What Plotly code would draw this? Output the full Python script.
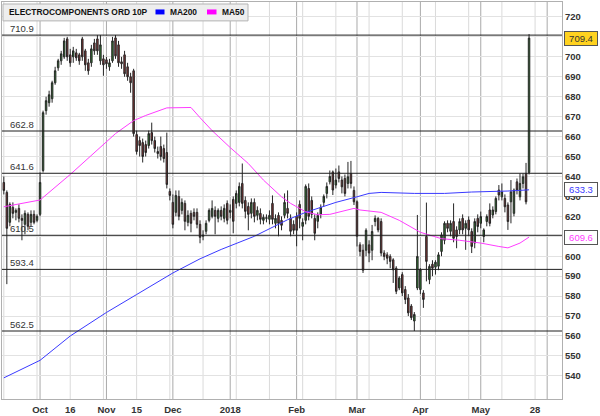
import pandas as pd
import plotly.graph_objects as go

# ---------------- data ----------------
TITLE = "ELECTROCOMPONENTS ORD 10P"
first_day = "2017-09-14"
last_day = "2018-05-24"
axis_end_day = "2018-06-08"
holidays = ["2017-12-25", "2017-12-26", "2018-01-01", "2018-03-30", "2018-04-02", "2018-05-07"]

open_ = [637, 632, 617, 624.5, 622, 624, 619, 616, 621, 617, 621, 618,
         621, 643, 673, 677, 679, 687, 694.5, 698, 700, 709, 701, 700, 702, 701, 709, 703, 697, 697, 707, 709, 698, 699,
         698.5, 695, 698, 709.5, 706, 697.5, 701, 695, 690, 693, 661, 658, 657, 656, 655.5, 662, 658, 652.5, 655, 654, 652, 632.5,
         627, 622, 630, 623, 626.5, 617, 621.5, 622, 622, 616, 610, 612.5, 618, 620, 623, 619, 623, 619, 626.5,
         622, 628.5, 626.5, 627, 636.5, 628, 625, 621.5, 627, 620.5, 621.5, 618, 619, 618.5, 626.5, 616.5, 620.5, 618, 620.5, 624, 619, 616,
         620, 626, 615, 618, 634, 628, 619, 617.5, 621, 627, 631.5, 637.3, 642.3, 635.7, 642.3, 638.2, 639, 636.5, 641.5, 633,
         627.3, 605.7, 603, 603, 605.7, 603, 617.4, 619, 617.4, 601.6, 600.7, 599.9, 598.2, 594, 584.1, 590.8, 583.3, 579.1, 575, 567.5, 584.1,
         583.3, 581.6, 609.9, 588.3, 596, 594.5, 595, 602.4, 608, 616.5, 612.5, 617.4, 613.2, 613.2, 619, 614, 618.2, 612.4, 606.6, 619,
         616.5, 609.9, 617.4, 623.2, 620.7, 622.4, 633.2, 629.8, 629, 625.7, 627.3, 621.5, 637.3, 629.8, 636.5, 641.5, 642]
high = [640, 633, 627, 627, 624, 626, 621, 623, 622, 623, 623, 621,
        642, 673, 680, 683, 688, 695, 699, 703, 709.5, 710, 704, 705, 704, 702, 710, 704, 699, 706, 709, 710.9, 710.9, 701,
        700, 699, 710, 710.9, 708, 700, 703, 697, 692, 694, 663, 660, 659, 658, 663, 667, 660, 655, 660, 656, 662, 634,
        631, 633, 633, 629, 628, 623, 623, 624, 624, 618, 613, 618, 624, 628, 625, 624, 625, 626, 628,
        626, 630, 633, 637, 646.5, 630, 627, 629, 629, 625, 624, 621, 621, 623, 630.5, 621, 622, 620, 631.5, 633, 621, 618,
        622, 628, 619, 636, 636.5, 630, 621, 622, 626, 631, 637, 643, 643, 644, 645.5, 640, 641, 647.3, 647.8, 635,
        628, 607, 606, 614, 608, 615.7, 620.5, 619.6, 619, 603, 602, 601, 599, 595, 590, 592, 585, 581, 576, 572, 620.7,
        594, 583, 626.9, 596, 598, 598, 602, 612, 617.5, 618, 618, 626.5, 615, 619, 621, 618, 620, 614, 619, 621,
        622.4, 614, 621, 626.5, 625, 630, 635.7, 636.5, 631, 627, 638.2, 634, 639, 641.5, 641.5, 646.8, 711.4]
low = [631, 586, 615, 619, 618, 617, 608, 611, 613, 615, 616, 617,
       620, 642, 671, 675, 677, 686, 693, 696, 699, 698, 695, 697, 698, 696, 698, 693, 691, 695, 701, 701, 696, 690.5,
       694, 693, 697, 699, 695, 694, 690, 688, 682, 660, 651, 650, 647, 650, 654, 656, 652, 649, 648, 647, 634, 628,
       614, 620, 618, 621, 613, 615, 612, 618, 614, 606.5, 608, 611, 617, 619, 611, 617, 618, 617, 616,
       619, 611.5, 624, 625, 624, 619, 613, 619, 617, 618, 616, 616, 617, 616, 616, 614, 610, 613, 619, 619, 610, 611,
       605, 614, 608, 616, 618, 619, 608, 614, 619, 625, 629, 636, 630.7, 634, 637, 631.5, 630, 634, 634, 625.7,
       604.9, 600, 591.6, 600, 597, 598, 615, 612, 600, 598, 596, 594, 586.6, 581, 583, 580, 576, 570, 568, 562.5, 583,
       581, 574.1, 587.4, 586, 590, 590.8, 593, 600, 606, 612, 610, 607, 604, 611, 611, 603.2, 610, 601.6, 604, 612,
       614, 607, 615, 615, 619, 621, 628, 628, 622, 613.2, 616.5, 620, 631, 628, 634, 626, 641]
close = [633, 614, 626, 621.5, 623, 619, 618, 621.5, 615, 621, 617, 620,
         637, 672, 678, 681, 687, 693, 698, 701.5, 708, 700, 697, 703, 699.5, 698, 700, 696, 693, 704, 703, 703, 706, 696,
         696.5, 697, 708, 700.5, 697, 696.5, 691.5, 690, 687, 661.5, 652.5, 655.5, 650, 652, 661.5, 658, 654, 651.5, 650, 649, 636, 630.5,
         616, 630.5, 620, 627, 617.5, 620.5, 616.5, 620, 616, 609.5, 610.5, 616.5, 623, 624, 620, 623, 620, 624, 618,
         623, 617.5, 631.5, 635, 626.5, 622.5, 621, 627, 620, 623, 618.5, 619.5, 619.3, 620.5, 618.5, 619, 616.5, 615.5, 627, 621.5, 612.5, 613,
         613, 619, 617, 635, 620, 621, 611.5, 620.5, 624.5, 630, 635, 640, 633.2, 638.2, 639, 634.8, 631.5, 639.8, 636.5, 627.3,
         610, 602.4, 593, 613, 601.6, 612.4, 619, 613.2, 601.6, 599.9, 599, 597.4, 593.2, 582.4, 589.1, 581.6, 578.3, 571.6, 569.2, 570.8, 599.9,
         593.2, 578.3, 597.4, 594.9, 594, 597, 600.7, 610.7, 616.5, 614, 616.5, 609, 609.9, 617.4, 613.2, 616.5, 613.2, 604.9, 617.4, 614.9,
         619.9, 613.2, 619.9, 616.5, 623.2, 629, 630.7, 632.3, 624.8, 617.4, 632.3, 633.2, 633.2, 636.5, 639.8, 627.3, 709.4]

ma200_dates = ["2017-09-14", "2017-10-02", "2017-10-16", "2017-11-01", "2017-11-15", "2017-12-01", "2017-12-14",
               "2017-12-27", "2018-01-12", "2018-01-29", "2018-02-06", "2018-02-20", "2018-03-01", "2018-03-07",
               "2018-03-13", "2018-03-28", "2018-04-13", "2018-04-26", "2018-05-15", "2018-05-24"]
ma200_vals = [539.0, 547.8, 560.0, 571.8, 580.8, 591.6, 598.7,
              603.4, 610.0, 618.3, 622.0, 627.0, 629.8, 631.5,
              632.0, 631.5, 631.5, 632.2, 632.7, 633.3]

ma50_dates = ["2017-09-14", "2017-10-02", "2017-10-16", "2017-10-30", "2017-11-06", "2017-11-14", "2017-11-20",
              "2017-11-29", "2017-12-11", "2017-12-14", "2017-12-20", "2018-01-02", "2018-01-10", "2018-01-17",
              "2018-01-25", "2018-01-30", "2018-02-06", "2018-02-12", "2018-02-16", "2018-02-28", "2018-03-02",
              "2018-03-13", "2018-03-21", "2018-04-03", "2018-04-12", "2018-04-20", "2018-05-01", "2018-05-10",
              "2018-05-15", "2018-05-21", "2018-05-24"]
ma50_vals = [624.8, 628.2, 641.0, 654.8, 661.5, 668.0, 670.6,
             674.4, 674.6, 669.5, 663.0, 654.5, 646.5, 638.2,
             629.8, 626.5, 622.3, 620.8, 621.0, 624.0, 623.2,
             622.0, 618.0, 612.0, 608.8, 608.0, 606.6, 604.9,
             604.2, 606.6, 609.6]

levels = [710.9, 662.8, 641.6, 610.5, 593.4, 562.5]
level_labels = ["710.9", "662.8", "641.6", "610.5", "593.4", "562.5"]

ytick_vals = list(range(540, 721, 10))
ytick_hidden = [710, 610]          # covered by the price boxes in the original
xtick_dates = ["2017-10-02", "2017-10-16", "2017-11-01", "2017-11-15", "2017-12-01", "2018-01-02",
               "2018-02-01", "2018-03-01", "2018-04-03", "2018-05-01", "2018-05-28"]
xtick_text = ["Oct", "16", "Nov", "15", "Dec", "2018", "Feb", "Mar", "Apr", "May", "28"]

last_price = 709.4
ma200_last = 633.3
ma50_last = 609.6

# ---------------- layout helpers ----------------
W, H = 600, 416
ML, MR, MT, MB = 2, 38, 1, 16
PW, PH = W - ML - MR, H - MT - MB


def pxx(x):
    return (x - ML) / PW


def pxy(y):
    return (H - MB - y) / PH


all_days = [d for d in pd.bdate_range(first_day, axis_end_day)
            if d.strftime("%Y-%m-%d") not in holidays]
dates = [d for d in all_days if d <= pd.Timestamp(last_day)]
assert len(dates) == len(open_) == len(high) == len(low) == len(close), (len(dates), len(open_), len(high), len(low), len(close))

month_starts = [d for p, d in zip(all_days[:-1], all_days[1:]) if d.month != p.month]
light_lines = all_days[::11]

GREEN = "#2f7d2f"
RED = "#8c3434"
BLUE = "#3a3aff"
MAGENTA = "#ff3cff"
FONT = "Liberation Sans, Arial, sans-serif"

fig = go.Figure()
fig.add_trace(go.Candlestick(
    x=dates, open=open_, high=high, low=low, close=close,
    increasing=dict(line=dict(color="#262626", width=1), fillcolor=GREEN),
    decreasing=dict(line=dict(color="#262626", width=1), fillcolor=RED),
    whiskerwidth=0, showlegend=False, hoverinfo="skip", name=TITLE))
fig.add_trace(go.Scatter(x=ma200_dates, y=ma200_vals, mode="lines",
                         line=dict(color=BLUE, width=1), showlegend=False, hoverinfo="skip", name="MA200"))
fig.add_trace(go.Scatter(x=ma50_dates, y=ma50_vals, mode="lines",
                         line=dict(color=MAGENTA, width=1), showlegend=False, hoverinfo="skip", name="MA50"))

shapes = []
for d in light_lines:
    shapes.append(dict(type="line", xref="x", yref="paper", x0=d, x1=d, y0=0, y1=1,
                       line=dict(color="#dadada", width=1), layer="below"))
for d in month_starts:
    shapes.append(dict(type="line", xref="x", yref="paper", x0=d, x1=d, y0=0, y1=1,
                       line=dict(color="#a9a9a9", width=1), layer="below"))
for lv in levels:
    shapes.append(dict(type="line", xref="paper", yref="y", x0=0, x1=1, y0=lv, y1=lv,
                       line=dict(color="#1e1e1e", width=1), layer="above"))
# legend box
shapes.append(dict(type="rect", xref="paper", yref="paper", x0=pxx(3), x1=pxx(248), y0=pxy(20), y1=pxy(3),
                   fillcolor="#eeeeee", line=dict(color="#b4b4b4", width=1), layer="above"))
shapes.append(dict(type="rect", xref="paper", yref="paper", x0=pxx(155.5), x1=pxx(164.5), y0=pxy(13.5), y1=pxy(8.5),
                   fillcolor="#0000ff", line=dict(width=0), layer="above"))
shapes.append(dict(type="rect", xref="paper", yref="paper", x0=pxx(207), x1=pxx(216.5), y0=pxy(13.5), y1=pxy(8.5),
                   fillcolor="#ff00ff", line=dict(width=0), layer="above"))

annotations = []
for lv, txt in zip(levels, level_labels):
    annotations.append(dict(xref="paper", yref="y", x=pxx(8), y=lv, text=txt, showarrow=False,
                            xanchor="left", yanchor="bottom", yshift=-1,
                            font=dict(family=FONT, size=9.5, color="#333333")))
legend_font = dict(family=FONT, size=8.4, color="#111111", weight="bold")
annotations.append(dict(xref="paper", yref="paper", x=pxx(7), y=pxy(11.3), text=TITLE, showarrow=False,
                        xanchor="left", yanchor="middle", font=legend_font))
annotations.append(dict(xref="paper", yref="paper", x=pxx(167.5), y=pxy(11.3), text="MA200", showarrow=False,
                        xanchor="left", yanchor="middle", font=legend_font))
annotations.append(dict(xref="paper", yref="paper", x=pxx(219.5), y=pxy(11.3), text="MA50", showarrow=False,
                        xanchor="left", yanchor="middle", font=legend_font))
# right-hand price boxes
for val, bg, fg in [(last_price, "#ffd21f", "#333333"), (ma200_last, "#ffffff", "#3a3aff"), (ma50_last, "#ffffff", "#ff3cff")]:
    annotations.append(dict(xref="paper", yref="y", x=pxx(564), y=val, text=f"{val:.1f}", showarrow=False,
                            xanchor="left", yanchor="middle", bgcolor=bg, bordercolor="#555555", borderwidth=1,
                            borderpad=1, width=30, height=11,
                            font=dict(family=FONT, size=9.5, color=fg)))

fig.update_layout(
    width=W, height=H,
    margin=dict(l=ML, r=MR, t=MT, b=MB, pad=0),
    paper_bgcolor="#ffffff", plot_bgcolor="#ffffff",
    showlegend=False,
    shapes=shapes, annotations=annotations,
    xaxis=dict(
        type="date",
        range=["2017-09-13 09:30", "2018-06-07 22:00"],
        rangebreaks=[dict(bounds=["sat", "mon"]), dict(values=holidays)],
        rangeslider=dict(visible=False),
        tickmode="array", tickvals=xtick_dates, ticktext=xtick_text,
        showgrid=False, ticks="", zeroline=False,
        showline=True, mirror=True, linecolor="#b0b0b0", linewidth=1,
        tickfont=dict(family=FONT, size=9.5, color="#333333", weight="bold"),
        ticklabelstandoff=2,
        fixedrange=True,
    ),
    yaxis=dict(
        side="right",
        range=[528.4, 727.5],
        tickmode="array", tickvals=ytick_vals,
        ticktext=["" if v in ytick_hidden else str(v) for v in ytick_vals],
        showgrid=True, gridcolor="#e2e2e2", gridwidth=1,
        ticks="", zeroline=False,
        showline=True, mirror=True, linecolor="#b0b0b0", linewidth=1,
        tickfont=dict(family=FONT, size=9.5, color="#333333", weight="bold"),
        fixedrange=True,
    ),
)

fig.write_html("out.html", config={"displayModeBar": False, "staticPlot": True},
               post_script="document.body.style.margin='0px';document.body.style.overflow='hidden';")
